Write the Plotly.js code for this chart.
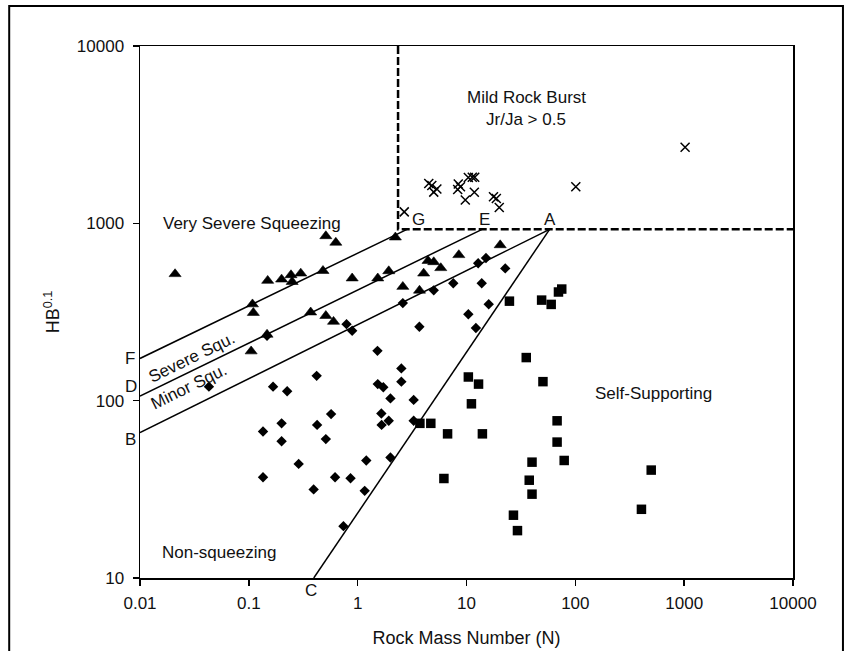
<!DOCTYPE html>
<html>
<head>
<meta charset="utf-8">
<script src="https://cdn.plot.ly/plotly-3.0.1.min.js"></script>
<style>
  html, body { margin: 0; padding: 0; background: #fff; }
  #chart { width: 855px; height: 651px; }
</style>
</head>
<body>
<div id="chart"></div>
<script>
// ---- Data (Rock Mass Number N vs HB^0.1) ----
// Squeezing cases (triangles)
const triN = [0.021, 0.108, 0.11, 0.105, 0.147, 0.149, 0.2, 0.244, 0.25, 0.3, 0.48, 0.37, 0.51, 0.6, 0.89, 1.53, 1.93, 0.51, 0.63, 2.22, 4.43, 5.0, 5.8, 8.5, 4.04, 2.6, 3.7, 20.4];
const triH = [518, 350, 313, 190, 236, 475, 483, 511, 468, 522, 540, 315, 301, 279, 490, 490, 538, 848, 779, 834, 615, 605, 560, 663, 522, 439, 418, 754];
// Non-squeezing cases (diamonds)
const diaN = [0.043, 0.147, 0.167, 0.225, 0.42, 0.135, 0.2, 0.2, 0.287, 0.424, 0.51, 0.57, 0.135, 0.394, 0.62, 0.86, 1.2, 1.16, 0.74, 1.65, 1.66, 1.93, 2.0, 3.27, 3.27, 1.53, 1.72, 2.52, 2.52, 2.0, 1.52, 0.79, 0.89, 2.6, 3.69, 5.0, 7.56, 13.8, 12.8, 15.1, 22.7, 16, 10.4, 12.2];
const diaH = [120, 232, 120, 113, 138, 67, 74.5, 59, 44, 73, 60.7, 84, 37, 31.6, 37, 36.5, 46, 31, 19.6, 84.6, 73, 77, 47.8, 77, 101, 124, 119, 128, 152, 103, 191, 270, 248, 355, 261, 419, 459, 459, 595, 637, 557, 350, 307, 257];
// Self-supporting cases (squares)
const sqN = [24.8, 49, 60, 70, 75, 35.4, 50.4, 10.4, 12.9, 11.1, 3.73, 4.7, 6.7, 14, 68, 68, 79, 40, 37.7, 40, 6.2, 27, 29.4, 498, 405];
const sqH = [364, 369, 349, 410, 426, 175, 128, 136, 124, 96, 74.5, 74.5, 65, 65, 77, 58.4, 46, 45, 35.6, 29.7, 36.4, 22.6, 18.5, 40.6, 24.4];
// Rock burst cases (crosses)
const burstN = [2.68, 4.5, 4.8, 5.0, 5.34, 8.4, 8.3, 8.8, 9.75, 10.4, 11.3, 11.9, 11.8, 17.7, 18.8, 20, 101, 1020];
const burstH = [1160, 1677, 1634, 1500, 1560, 1666, 1550, 1610, 1353, 1813, 1820, 1820, 1496, 1413, 1380, 1228, 1608, 2684];

// Boundary lines (end points)
const lineFG_N = [0.01, 2.84],  lineFG_H = [173, 925];
const lineDE_N = [0.01, 13.9],  lineDE_H = [106, 925];
const lineBA_N = [0.01, 58],    lineBA_H = [66, 925];
const lineCA_N = [0.395, 58],   lineCA_H = [10, 925];
const burstLimN = [2.35, 2.35, 10000], burstLimH = [10000, 925, 925];

// Axis ticks
const xTickVals = [0.01, 0.1, 1, 10, 100, 1000, 10000];
const xTickText = ['0.01', '0.1', '1', '10', '100', '1000', '10000'];
const yTickVals = [10, 100, 1000, 10000];
const yTickText = ['10', '100', '1000', '10000'];

const FONT = 'Arial, "Liberation Sans", Helvetica, sans-serif';
const INK = '#000';

function lineTrace(xs, ys, opts) {
  return Object.assign({
    x: xs, y: ys, type: 'scatter', mode: 'lines',
    line: { color: INK, width: 1.5 }, hoverinfo: 'skip', cliponaxis: true
  }, opts || {});
}

const traces = [
  lineTrace(lineFG_N, lineFG_H),
  lineTrace(lineDE_N, lineDE_H),
  lineTrace(lineBA_N, lineBA_H),
  lineTrace(lineCA_N, lineCA_H),
  lineTrace(burstLimN, burstLimH, { line: { color: INK, width: 2.5, dash: '8px,3px' } }),
  { x: triN, y: triH, type: 'scatter', mode: 'markers',
    marker: { symbol: 'triangle-up', size: 10.5, color: INK, line: { width: 0.6, color: INK } } },
  { x: diaN, y: diaH, type: 'scatter', mode: 'markers',
    marker: { symbol: 'diamond', size: 8, color: INK, line: { width: 0 } } },
  { x: sqN, y: sqH, type: 'scatter', mode: 'markers',
    marker: { symbol: 'square', size: 9.5, color: INK, line: { width: 0 } } },
  { x: burstN, y: burstH, type: 'scatter', mode: 'markers',
    marker: { symbol: 'x-thin-open', size: 9, color: INK, line: { width: 1.5, color: INK } } }
];

const TXT = { family: FONT, size: 17, color: '#111' };

function ann(text, lx, ly, extra) {
  return Object.assign({
    text: text, x: lx, y: ly, xref: 'x', yref: 'y', showarrow: false,
    font: TXT, xanchor: 'center', yanchor: 'middle'
  }, extra || {});
}
function pann(text, px, py) {
  return { text: text, x: px, y: py, xref: 'paper', yref: 'paper', showarrow: false,
           font: TXT, xanchor: 'center', yanchor: 'middle' };
}

const annotations = [
  ann('Mild Rock Burst', 1.549, 3.712),
  ann('Jr/Ja &gt; 0.5', 1.549, 3.588),
  ann('Very Severe Squeezing', -0.970, 3.0),
  ann('Self-Supporting', 2.715, 2.043),
  ann('Non-squeezing', -1.276, 1.142),
  ann('Severe Squ.', -1.5225, 2.243, { textangle: -26 }),
  ann('Minor Squ.', -1.5455, 2.078, { textangle: -26 }),
  pann('F', -0.0156, 0.4117),
  pann('D', -0.0138, 0.3609),
  pann('B', -0.0145, 0.2607),
  pann('C', 0.262, -0.0226),
  ann('G', 0.560, 3.024),
  ann('E', 1.166, 3.024),
  ann('A', 1.767, 3.024)
];

const axisCommon = {
  type: 'log', showgrid: false, zeroline: false,
  showline: true, linecolor: INK, linewidth: 1.5, mirror: true,
  ticks: 'outside', ticklen: 6, tickwidth: 1.5, tickcolor: INK,
  tickfont: TXT
};

const layout = {
  width: 855, height: 651,
  margin: { l: 139.5, r: 62, t: 46, b: 73, pad: 0 },
  paper_bgcolor: '#fff', plot_bgcolor: '#fff',
  showlegend: false,
  font: { family: FONT, color: '#111', size: 17 },
  xaxis: Object.assign({}, axisCommon, {
    range: [-2, 4], tickmode: 'array', tickvals: xTickVals, ticktext: xTickText,
    ticklabelstandoff: 3,
    title: { text: 'Rock Mass Number (N)', font: { family: FONT, size: 18, color: '#111' }, standoff: 19 }
  }),
  yaxis: Object.assign({}, axisCommon, {
    range: [1, 4], tickmode: 'array', tickvals: yTickVals, ticktext: yTickText,
    ticklabelstandoff: 5,
    title: { text: 'HB<sup>0.1</sup>', font: { family: FONT, size: 18, color: '#111' }, standoff: 12 }
  }),
  annotations: annotations,
  shapes: [
    { type: 'rect', xref: 'paper', yref: 'paper',
      x0: -0.2003, x1: 1.0765, y0: -0.2, y1: 1.0752,
      line: { color: INK, width: 2 }, fillcolor: 'rgba(0,0,0,0)', layer: 'below' }
  ]
};

Plotly.newPlot('chart', traces, layout, { displayModeBar: false, staticPlot: true });
</script>
</body>
</html>
